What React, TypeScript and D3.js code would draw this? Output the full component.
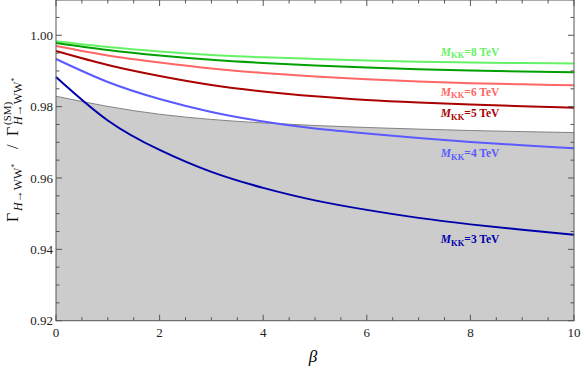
import * as d3 from 'd3';
import React from 'react';

// beta grid and the ratio Gamma/Gamma_SM
const betas = [0, 1, 2, 3, 4, 5, 6, 7, 8, 9, 10];
const m8 = [0.99832, 0.99672, 0.99546, 0.99448, 0.99384, 0.99336, 0.99294, 0.9926, 0.99238, 0.99221, 0.9921];
const m7 = [0.99784, 0.99588, 0.99434, 0.99314, 0.99224, 0.99154, 0.99098, 0.9905, 0.99011, 0.98983, 0.98964];
const m6 = [0.997, 0.99434, 0.99238, 0.9907, 0.98944, 0.98846, 0.98768, 0.98706, 0.98658, 0.98625, 0.98599];
const m5 = [0.9956, 0.99168, 0.9886, 0.98608, 0.98426, 0.98291, 0.98188, 0.98118, 0.98059, 0.98011, 0.97972];
const m4 = [0.99336, 0.98692, 0.98216, 0.97852, 0.97585, 0.97389, 0.97249, 0.97123, 0.97011, 0.96919, 0.96835];
const m3 = [0.98832, 0.97613, 0.96787, 0.96171, 0.95723, 0.95373, 0.95106, 0.94882, 0.947, 0.94546, 0.94406];
const excluded = [0.98291, 0.98006, 0.97787, 0.97641, 0.97543, 0.97471, 0.97415, 0.9737, 0.97331, 0.973, 0.97272];

const series = [
  { mass: '8', values: m8, color: '#66f266' },
  { mass: '7', values: m7, color: '#00a000' },
  { mass: '6', values: m6, color: '#ff6666' },
  { mass: '5', values: m5, color: '#aa0000' },
  { mass: '4', values: m4, color: '#5a5aff' },
  { mass: '3', values: m3, color: '#0000aa' },
];

// label anchors (beta, value at baseline)
const labels = [
  { mass: '8', beta: 7.43, value: 0.9942, color: '#66f266' },
  { mass: '6', beta: 7.43, value: 0.98308, color: '#ff6666' },
  { mass: '5', beta: 7.43, value: 0.97703, color: '#aa0000' },
  { mass: '4', beta: 7.43, value: 0.96583, color: '#5a5aff' },
  { mass: '3', beta: 7.43, value: 0.94174, color: '#0000aa' },
];

const xMajor = [0, 2, 4, 6, 8, 10];
const yMajor = [0.92, 0.94, 0.96, 0.98, 1.0];

const W = 581, H = 369;
const left = 56, right = 574, top = -0.4, bottom = 320.7;
const serif = "'Liberation Serif', 'DejaVu Serif', serif";

export default function App() {
  const x = d3.scaleLinear().domain([0, 10]).range([left, right]);
  const y = d3.scaleLinear().domain([0.92, 1.01]).range([bottom, top]);

  const line = d3.line<number>()
    .x((_, i) => x(betas[i]))
    .y(d => y(d))
    .curve(d3.curveNatural);

  const area = d3.area<number>()
    .x((_, i) => x(betas[i]))
    .y0(y(0.92))
    .y1(d => y(d))
    .curve(d3.curveNatural);

  const xMinor = d3.range(0, 10.001, 0.5).filter(v => !xMajor.some(m => Math.abs(m - v) < 1e-6));
  const yMinor = d3.range(0.92, 1.0101, 0.005).filter(v => !yMajor.some(m => Math.abs(m - v) < 1e-6));

  const frame = '#555';
  const yTop = 0, yBot = y(0.92);
  const tf = { fontFamily: serif };

  return (
    <svg width={W} height={H} style={{ position: 'absolute', left: 0, top: 0, fontFamily: serif }}>
      <rect width={W} height={H} fill="#fff" />
      <path d={area(excluded) || ''} fill="#cccccc" />
      <path d={line(excluded) || ''} fill="none" stroke="#777" strokeWidth={0.9} />
      {series.map(s => (
        <path key={s.mass} d={line(s.values) || ''} fill="none" stroke={s.color} strokeWidth={2} />
      ))}

      {/* frame */}
      <rect x={left} y={yTop} width={right - left} height={yBot - yTop} fill="none" stroke={frame} strokeWidth={1} />
      {xMajor.map(v => (
        <g key={'xm' + v}>
          <line x1={x(v)} x2={x(v)} y1={yBot} y2={yBot - 6} stroke={frame} />
          <line x1={x(v)} x2={x(v)} y1={yTop} y2={yTop + 6} stroke={frame} />
          <text x={x(v)} y={337} textAnchor="middle" fontSize={13} fill="#222" style={tf}>{v}</text>
        </g>
      ))}
      {xMinor.map(v => (
        <g key={'xn' + v}>
          <line x1={x(v)} x2={x(v)} y1={yBot} y2={yBot - 3.5} stroke={frame} />
          <line x1={x(v)} x2={x(v)} y1={yTop} y2={yTop + 3.5} stroke={frame} />
        </g>
      ))}
      {yMajor.map(v => (
        <g key={'ym' + v}>
          <line x1={left} x2={left + 6} y1={y(v)} y2={y(v)} stroke={frame} />
          <line x1={right} x2={right - 6} y1={y(v)} y2={y(v)} stroke={frame} />
          <text x={53} y={y(v)} dy="0.35em" textAnchor="end" fontSize={13} fill="#222" style={tf}>{v.toFixed(2)}</text>
        </g>
      ))}
      {yMinor.map(v => (
        <g key={'yn' + v}>
          <line x1={left} x2={left + 3.5} y1={y(v)} y2={y(v)} stroke={frame} />
          <line x1={right} x2={right - 3.5} y1={y(v)} y2={y(v)} stroke={frame} />
        </g>
      ))}

      {/* curve labels */}
      {labels.map(l => (
        <text key={'l' + l.mass} x={x(l.beta)} y={y(l.value)} fontSize={11.5} fontWeight="bold" fill={l.color} style={tf}>
          <tspan fontStyle="italic">M</tspan>
          <tspan fontSize={8.5} dy={2.5}>KK</tspan>
          <tspan dy={-2.5}>={l.mass} TeV</tspan>
        </text>
      ))}

      {/* axis titles */}
      <text x={313} y={362} textAnchor="middle" fontSize={17} fontStyle="italic" style={tf}>β</text>
      <g transform="translate(18,222) rotate(-90)" fill="#111" style={tf}>
        <text x={0} y={0} fontSize={16}>Γ</text>
        <text x={11} y={4} fontSize={12}>
          <tspan fontStyle="italic">H</tspan>→WW<tspan fontSize={8} dy={-5}>*</tspan>
        </text>
        <text x={73} y={0} fontSize={16}>/</text>
        <text x={86} y={0} fontSize={16}>Γ</text>
        <text x={97} y={-7} fontSize={11}>(SM)</text>
        <text x={97} y={4} fontSize={12}>
          <tspan fontStyle="italic">H</tspan>→WW<tspan fontSize={8} dy={-5}>*</tspan>
        </text>
      </g>
    </svg>
  );
}
